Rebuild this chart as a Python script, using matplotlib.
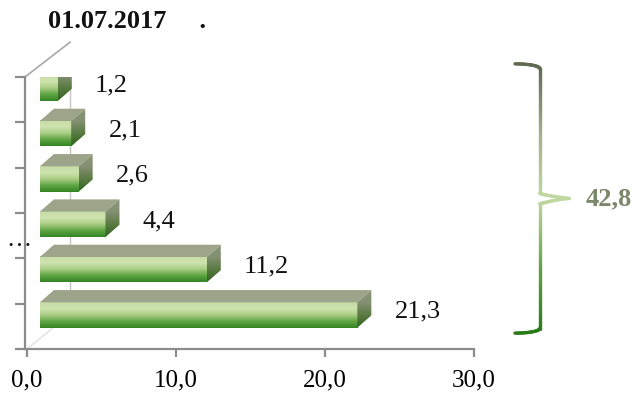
import matplotlib
matplotlib.use("Agg")
import matplotlib.pyplot as plt
import numpy as np
from matplotlib.colors import LinearSegmentedColormap
from matplotlib.patches import Polygon
from matplotlib.collections import LineCollection

plt.rcParams["font.family"] = ["Liberation Serif", "DejaVu Serif"]

# bars from bottom to top
values = [21.3, 11.2, 4.4, 2.6, 2.1, 1.2]
category_labels = ["", "", "\u2026", "", "", ""]
x_ticks = [0, 10, 20, 30]
title = "01.07.2017     ."

total = round(sum(values), 1)


def fmt(v):
    return f"{v:.1f}".replace(".", ",")


fig = plt.figure(figsize=(6.43, 3.99), dpi=100)
ax = fig.add_axes([25 / 643, 50 / 399, 449 / 643, 272 / 399])
XMIN, XMAX = -0.13, 30
ax.set_xlim(XMIN, XMAX)
ax.set_ylim(0, len(values))

# pseudo-3d geometry (data units)
x0 = 0.87          # front faces start a little off the axis
depth_x = 0.94
depth_y = 0.27
face_lo, face_hi = 0.47, 1.03
wall_x, wall_dy = 2.9, 0.77

front_cmap = LinearSegmentedColormap.from_list(
    "front", ["#348526", "#5fa443", "#a9cd84", "#cfe3b0", "#c5dca4"])
side_cmap = LinearSegmentedColormap.from_list(
    "side", ["#30641e", "#597a42", "#849072", "#8b9678"])
grad = np.linspace(0, 1, 64).reshape(-1, 1)

# back wall and floor edges
wall_kw = dict(color="#c4c4c4", lw=1.0, zorder=1)
ax.plot([wall_x, wall_x], [wall_dy, len(values) + wall_dy], **wall_kw)
ax.plot([XMIN, wall_x], [len(values), len(values) + wall_dy],
        color="#a8a8a8", lw=1.2, zorder=1, clip_on=False)
ax.plot([0, wall_x], [0, wall_dy], color="#e2e2e2", lw=1.0, zorder=1)

for i, v in enumerate(values):
    yb, yt = i + face_lo, i + face_hi
    x1 = x0 + v
    # front face with vertical gradient
    ax.imshow(grad, cmap=front_cmap, extent=(x0, x1, yb, yt), origin="lower",
              aspect="auto", zorder=3, interpolation="bilinear")
    # top face
    top = Polygon([(x0, yt), (x1, yt), (x1 + depth_x, yt + depth_y),
                   (x0 + depth_x, yt + depth_y)], closed=True,
                  facecolor="#9ca48a", edgecolor="none", zorder=3)
    ax.add_patch(top)
    # right side face
    side = Polygon([(x1, yb), (x1 + depth_x, yb + depth_y),
                    (x1 + depth_x, yt + depth_y), (x1, yt)], closed=True,
                   facecolor="none", edgecolor="none", zorder=3)
    ax.add_patch(side)
    im = ax.imshow(grad, cmap=side_cmap,
                   extent=(x1, x1 + depth_x, yb, yt + depth_y), origin="lower",
                   aspect="auto", zorder=3, interpolation="bilinear")
    im.set_clip_path(side)
    ax.text(x1 + 2.5, i + 0.82, fmt(v), ha="left", va="center", fontsize=19,
            color="#111111", zorder=4)
    if category_labels[i]:
        ax.text(0.3, i + 0.27, category_labels[i], ha="right", va="baseline",
                fontsize=18, color="#111111", clip_on=False)

ax.set_xlim(XMIN, XMAX)
ax.set_ylim(0, len(values))

for side_name in ("top", "right"):
    ax.spines[side_name].set_visible(False)
for side_name in ("left", "bottom"):
    ax.spines[side_name].set_color("#8c8c8c")
    ax.spines[side_name].set_linewidth(1.6)

ax.set_xticks(x_ticks)
ax.set_xticklabels([fmt(t) for t in x_ticks], fontsize=18)
ax.set_yticks(range(len(values) + 1))
ax.set_yticklabels([])
ax.tick_params(axis="x", length=6, width=1.6, color="#8c8c8c", pad=9)
ax.tick_params(axis="y", length=7, width=1.6, color="#8c8c8c")

# curly bracket spanning all bars, coloured with a vertical gradient
bx0, bx1, btip = 32.75, 34.4, 36.4
ytop, ybot = len(values) + 0.29, 0.35
ymid = (ytop + ybot) / 2
t = np.linspace(0, 1, 20)
hook_top = np.column_stack([bx0 + (bx1 - bx0) * np.sin(t * np.pi / 2),
                            ytop - 0.1 * (1 - np.cos(t * np.pi / 2))])
upper = np.column_stack([np.full(40, bx1), np.linspace(ytop - 0.1, ymid + 0.12, 40)])
tip_in = np.column_stack([bx1 + (btip - bx1) * t ** 1.5, ymid + 0.12 * (1 - t)])
tip_out = np.column_stack([btip - (btip - bx1) * t ** 0.67, ymid - 0.12 * t])
lower = np.column_stack([np.full(40, bx1), np.linspace(ymid - 0.12, ybot + 0.1, 40)])
hook_bot = np.column_stack([bx1 - (bx1 - bx0) * (1 - np.cos(t * np.pi / 2)),
                            ybot + 0.1 - 0.1 * np.sin(t * np.pi / 2)])
path = np.vstack([hook_top, upper, tip_in, tip_out, lower, hook_bot])
segs = np.stack([path[:-1], path[1:]], axis=1)
bracket_cmap = LinearSegmentedColormap.from_list(
    "bracket", ["#2a7a1a", "#68a34c", "#c2d9a2", "#a3ad8c", "#5d6a50"])
shade = (segs[:, 0, 1] - ybot) / (ytop - ybot)
lc = LineCollection(segs, colors=bracket_cmap(shade), linewidths=2.4,
                    capstyle="round", clip_on=False, zorder=5)
ax.add_collection(lc)
ax.text(btip + 1.1, ymid, fmt(total), ha="left", va="center", fontsize=19,
        fontweight="bold", color="#7b876a", clip_on=False)

fig.text(48 / 643, 1 - 22 / 399, title, ha="left", va="center", fontsize=19,
         fontweight="bold", color="#111111")

fig.savefig("out.png", dpi=100, facecolor="white")
